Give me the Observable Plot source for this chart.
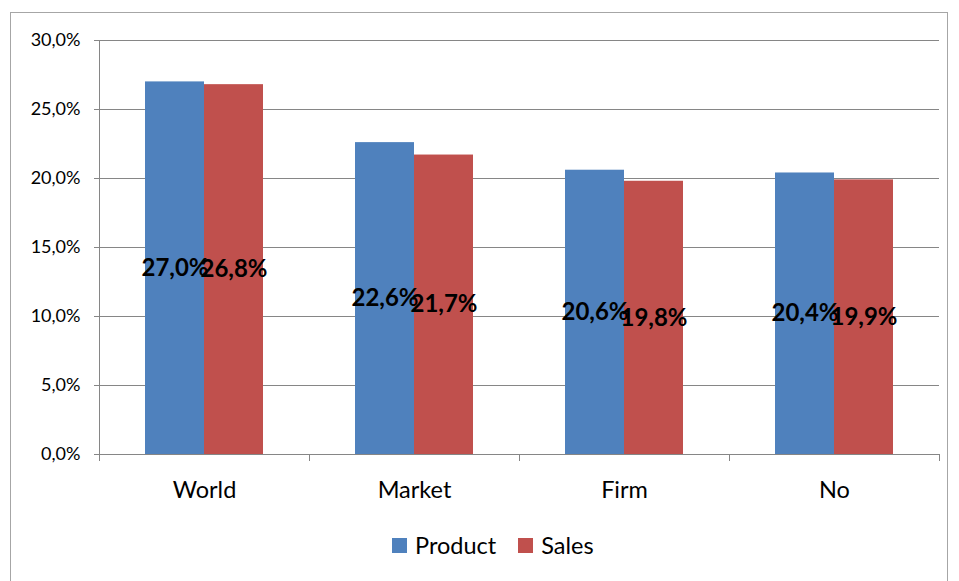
<!DOCTYPE html>
<html>
<head>
<meta charset="utf-8">
<script src="https://cdn.jsdelivr.net/npm/d3@7"></script>
<script src="https://cdn.jsdelivr.net/npm/@observablehq/plot@0.6"></script>
<style>
  html, body { margin: 0; padding: 0; background: #fff; }
  body { width: 959px; height: 581px; overflow: hidden; position: relative; font-family: Lato, "Open Sans", sans-serif; }
  #frame { position: absolute; left: 10px; top: 12px; width: 938px; height: 620px; border: 1px solid #a6a6a6; box-sizing: border-box; }
  #chart { position: absolute; left: 0; top: 0; }
  #legend { position: absolute; left: 392px; top: 531px; display: flex; align-items: center; font-size: 23.5px; color: #000; }
  #legend .sw { width: 15px; height: 15px; display: inline-block; margin-right: 8px; }
  #legend .item { display: flex; align-items: center; margin-right: 22px; }
</style>
</head>
<body>
<div id="frame"></div>
<div id="chart"></div>
<div id="legend"></div>
<script>
const categories = ["World", "Market", "Firm", "No"];
const series = ["Product", "Sales"];
const productValues = [0.270, 0.226, 0.206, 0.204];
const salesValues = [0.268, 0.217, 0.198, 0.199];
const seriesColors = ["#4F81BD", "#C0504D"];
const yTicks = [0, 0.05, 0.10, 0.15, 0.20, 0.25, 0.30];

const locale = d3.formatLocale({decimal: ",", thousands: ".", grouping: [3], currency: ["", "€"], percent: "%"});
const fmt = locale.format(".1%");

const data = [];
categories.forEach((c, i) => {
  data.push({category: c, series: "Product", value: productValues[i]});
  data.push({category: c, series: "Sales", value: salesValues[i]});
});

const chart = Plot.plot({
  width: 959,
  height: 510,
  marginLeft: 98,
  marginRight: 19,
  marginTop: 40,
  marginBottom: 56,
  style: {fontFamily: "Lato, 'Open Sans', sans-serif", color: "#000", background: "transparent"},
  fx: {domain: categories, padding: 0, label: null},
  x: {domain: series, paddingInner: 0, paddingOuter: 0.754, axis: null},
  y: {domain: [0, 0.30], label: null},
  color: {domain: series, range: seriesColors},
  marks: [
    Plot.gridY(yTicks, {stroke: "#868686", strokeOpacity: 1, strokeWidth: 1}),
    Plot.barY(data, {fx: "category", x: "series", y: "value", fill: "series", inset: 0}),
    Plot.text(data, {fx: "category", x: "series", y: d => d.value / 2, text: d => fmt(d.value),
      fontSize: 24, fontWeight: "bold", fill: "#000"}),
    Plot.axisY(yTicks, {tickFormat: fmt, tickSize: 5, tickPadding: 14, fontSize: 18, stroke: "#868686", label: null}),
    Plot.axisFx({anchor: "bottom", tickSize: 0, tickPadding: 27, fontSize: 23.5, label: null})
  ]
});
document.getElementById("chart").appendChild(chart);

// axis lines and category boundary ticks, positioned from the plot's own scales
const fx = chart.scale("fx");
const ys = chart.scale("y");
const svg = d3.select(chart);
const y0 = ys.apply(0), yTop = ys.apply(0.30);
const xs = fx.domain.map(c => fx.apply(c));
const xLeft = xs[0], xRight = xs[xs.length - 1] + fx.bandwidth;
const g = svg.append("g").attr("stroke", "#868686").attr("stroke-width", 1);
g.append("line").attr("x1", xLeft + 0.5).attr("x2", xLeft + 0.5).attr("y1", yTop).attr("y2", y0);
g.append("line").attr("x1", xLeft).attr("x2", xRight).attr("y1", y0 + 0.5).attr("y2", y0 + 0.5);
[...xs, xRight].forEach(x => {
  g.append("line").attr("x1", x + 0.5).attr("x2", x + 0.5).attr("y1", y0).attr("y2", y0 + 7);
});

const legend = document.getElementById("legend");
series.forEach((s, i) => {
  const item = document.createElement("div");
  item.className = "item";
  const sw = document.createElement("span");
  sw.className = "sw";
  sw.style.background = seriesColors[i];
  const t = document.createElement("span");
  t.textContent = s;
  item.appendChild(sw);
  item.appendChild(t);
  legend.appendChild(item);
});
</script>
</body>
</html>
